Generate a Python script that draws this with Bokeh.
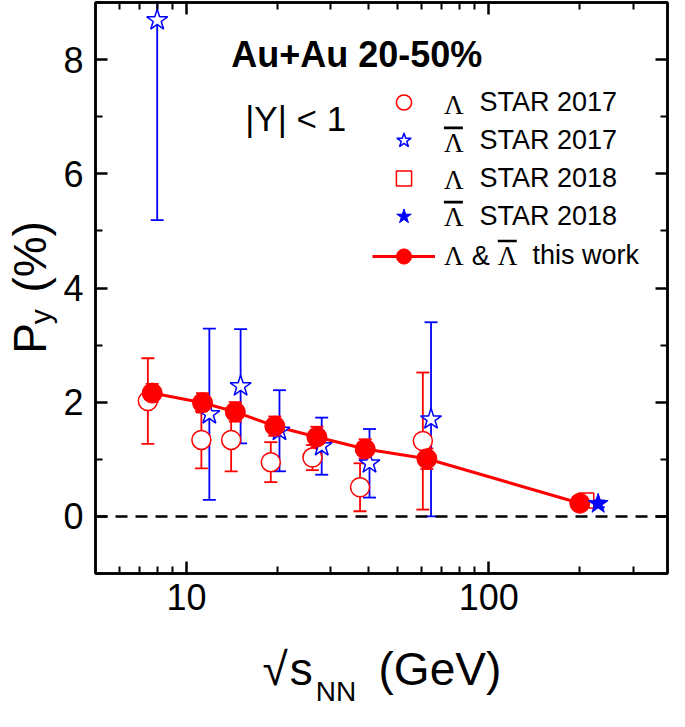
import math
from bokeh.plotting import figure
from bokeh.models import (Whisker, TeeHead, Span, Label, Legend, LegendItem,
                          LinearAxis, LogAxis, FixedTicker, BoxAnnotation,
                          NumeralTickFormatter, ColumnDataSource,
                          CustomJSTickFormatter)
from bokeh.embed import file_html
from bokeh.resources import INLINE

# ---------------- data ----------------
# Lambda, STAR 2017 (open circles)
x_lam17 = [7.45, 11.2, 14.05, 19.0, 26.1, 37.5, 60.5]
y_lam17 = [2.02, 1.34, 1.34, 0.95, 1.03, 0.51, 1.32]
e_lam17 = [0.75, 0.50, 0.55, 0.35, 0.22, 0.42, 1.20]
# anti-Lambda, STAR 2017 (open stars)
x_alam17 = [8.0, 11.9, 15.1, 20.3, 28.0, 40.3, 64.4]
y_alam17 = [8.69, 1.79, 2.28, 1.50, 1.23, 0.93, 1.70]
e_alam17 = [3.50, 1.50, 1.00, 0.71, 0.50, 0.60, 1.70]
# Lambda, STAR 2018 (open square)
x_lam18 = [210.0]
y_lam18 = [0.28]
e_lam18 = [0.04]
# anti-Lambda, STAR 2018 (filled star)
x_alam18 = [230.0]
y_alam18 = [0.22]
e_alam18 = [0.06]
# Lambda & anti-Lambda, this work
x_work = [7.7, 11.3, 14.5, 19.6, 27.0, 39.0, 62.4, 200.0]
y_work = [2.16, 1.99, 1.83, 1.58, 1.39, 1.18, 1.01, 0.23]
e_work = [0.16, 0.17, 0.17, 0.17, 0.18, 0.17, 0.18, 0.04]

x_major = [10, 100]
x_minor = [6, 7, 8, 9, 20, 30, 40, 50, 60, 70, 80, 90, 200, 300]
y_major = [0, 2, 4, 6, 8]
y_minor = [-1, 1, 3, 5, 7, 9]

legend_labels = ["STAR 2017", "STAR 2017", "STAR 2018", "STAR 2018"]
work_label = "this work"
x_title_parts = ["√", "s", "(GeV)"]
x_title_sub = ["NN"]
y_title_parts = ["P", "(%)"]
y_title_sub = ["y"]

RED = "#ff0000"
BLUE = "#0000ff"
SANS = "Liberation Sans"
SERIF = "Liberation Serif"

# ---------------- layout ----------------
W_FIG, H_FIG = 669, 711
BL, BR, BT, BB = 95, 2, 2, 138
FW, FH = W_FIG - BL - BR, H_FIG - BT - BB
X0, X1, Y0, Y1 = 5, 390, -1, 9
LAB_DY = 9   # raise for text labels
LEG_DY = 4   # legend block shift (reference px, downward)


def fx(X):  # reference pixel -> frame screen x
    return (X - 105) * FW / 573.0


def fy(Y):  # reference pixel -> frame screen y (up from frame bottom)
    return (581 - Y) * FH / 577.0


def dx(X):  # reference pixel -> x position on the log axis (for text placement)
    return X0 * (X1 / X0) ** (fx(X) / FW)


def dy(Y):  # reference pixel -> y position on the linear axis (for text placement)
    return Y0 + (Y1 - Y0) * fy(Y) / FH


p = figure(width=W_FIG, height=H_FIG, x_axis_type="log",
           x_range=(X0, X1), y_range=(Y0, Y1),
           output_backend="svg", toolbar_location=None,
           min_border_left=BL, min_border_right=BR,
           min_border_top=BT, min_border_bottom=BB)
p.xgrid.visible = False
p.ygrid.visible = False
p.outline_line_color = "black"
p.outline_line_width = 2.5
p.background_fill_color = "white"
p.border_fill_color = "white"


def style_axis(ax, labels=True):
    ax.major_tick_in = 12
    ax.major_tick_out = 0
    ax.minor_tick_in = 7
    ax.minor_tick_out = 0
    ax.axis_line_width = 2.5
    ax.axis_line_color = "black"
    ax.major_tick_line_width = 2.5
    ax.minor_tick_line_width = 2
    ax.major_tick_line_color = "black"
    ax.minor_tick_line_color = "black"
    ax.major_label_text_font = SANS
    ax.major_label_text_color = "black"
    if labels:
        ax.major_label_text_font_size = "36px"
        ax.major_label_standoff = 12
    else:
        ax.formatter = CustomJSTickFormatter(code="return ''")
        ax.major_label_text_font_size = "10px"
        ax.major_label_standoff = 0


def text_axis(cls, ticks, texts, size, standoff, vertical=False):
    ax = cls(ticker=FixedTicker(ticks=ticks, minor_ticks=[]),
             formatter=CustomJSTickFormatter(args=dict(t=texts),
                                             code="return t[index]"))
    ax.axis_line_color = None
    ax.major_tick_line_color = None
    ax.minor_tick_line_color = None
    ax.major_tick_in = 0
    ax.major_tick_out = 0
    ax.minor_tick_in = 0
    ax.minor_tick_out = 0
    ax.major_label_text_font = SANS
    ax.major_label_text_font_size = size
    ax.major_label_text_color = "black"
    ax.major_label_standoff = standoff
    if vertical:
        ax.major_label_orientation = "vertical"
    return ax


xb = p.xaxis[0]
xb.ticker = FixedTicker(ticks=x_major, minor_ticks=x_minor)
xb.formatter = NumeralTickFormatter(format="0")
style_axis(xb)
xb.major_label_standoff = 10
yl = p.yaxis[0]
yl.ticker = FixedTicker(ticks=y_major, minor_ticks=y_minor)
style_axis(yl)

xt = LogAxis(ticker=FixedTicker(ticks=x_major, minor_ticks=x_minor))
style_axis(xt, labels=False)
p.add_layout(xt, "above")
yr = LinearAxis(ticker=FixedTicker(ticks=y_major, minor_ticks=y_minor))
style_axis(yr, labels=False)
p.add_layout(yr, "right")

# axis titles (built from text-only axes so they sit outside the frame)
p.add_layout(text_axis(LogAxis, [dx(285), dx(311), dx(450)], x_title_parts,
                       "46px", 30), "below")
p.add_layout(text_axis(LogAxis, [dx(346)], x_title_sub, "28px", -22), "below")
p.add_layout(text_axis(LinearAxis, [dy(321.5)], y_title_sub, "30px", 3,
                       vertical=True), "left")
p.add_layout(text_axis(LinearAxis, [dy(343.5), dy(261)], y_title_parts,
                       "46px", -35, vertical=True), "left")

# zero line
p.add_layout(Span(location=0, dimension="width", line_color="black",
                  line_width=2.5, line_dash="12 8"))


def add_errors(xs, ys, es, color):
    src = ColumnDataSource(dict(x=xs, lo=[a - b for a, b in zip(ys, es)],
                                hi=[a + b for a, b in zip(ys, es)]))
    w = Whisker(source=src, base="x", lower="lo", upper="hi", dimension="height",
                line_color=color, line_width=1.8,
                lower_head=TeeHead(size=13, line_color=color, line_width=1.8),
                upper_head=TeeHead(size=13, line_color=color, line_width=1.8),
                level="underlay")
    p.add_layout(w)


add_errors(x_lam17, y_lam17, e_lam17, RED)
add_errors(x_alam17, y_alam17, e_alam17, BLUE)
add_errors(x_lam18, y_lam18, e_lam18, RED)
add_errors(x_alam18, y_alam18, e_alam18, BLUE)
add_errors(x_work, y_work, e_work, RED)

r_line = p.line(x_work, y_work, line_color=RED, line_width=3)
r_lam17 = p.scatter(x_lam17, y_lam17, marker="circle", size=19,
                    line_color=RED, fill_color="white", line_width=1.5)
r_lam18 = p.scatter(x_lam18, y_lam18, marker="square", size=15,
                    line_color=RED, fill_color="white", line_width=1.5)
r_alam17 = p.scatter(x_alam17, y_alam17, marker="star", size=22,
                     line_color=BLUE, fill_color="white", line_width=1.5)
r_work = p.scatter(x_work, y_work, marker="circle", size=20,
                   line_color=RED, fill_color=RED)
r_alam18 = p.scatter(x_alam18, y_alam18, marker="star", size=21,
                     line_color=BLUE, fill_color=BLUE)

# legends
common = dict(glyph_width=63, glyph_height=38, padding=0, margin=0, spacing=0,
              border_line_color=None, background_fill_alpha=0,
              label_text_font=SANS, label_text_font_size="27px",
              label_text_color="black")
leg1 = Legend(items=[LegendItem(label=legend_labels[0], renderers=[r_lam17]),
                     LegendItem(label=legend_labels[1], renderers=[r_alam17]),
                     LegendItem(label=legend_labels[2], renderers=[r_lam18]),
                     LegendItem(label=legend_labels[3], renderers=[r_alam18])],
              location=(fx(382), fy(235.7 + LEG_DY)), label_standoff=45, **common)
leg2 = Legend(items=[LegendItem(label=work_label, renderers=[r_line, r_work])],
              location=(fx(382), fy(275.7 + LEG_DY)), label_standoff=98, **common)
p.add_layout(leg1)
p.add_layout(leg2)


def lab(x, y, text, size, font=SANS, style="normal"):
    p.add_layout(Label(x=x, y=y + LAB_DY, x_units="screen", y_units="screen",
                       text=text, text_font=font, text_font_size=size,
                       text_font_style=style, text_color="black",
                       text_align="left", text_baseline="alphabetic"))


def bar(X, Y):
    p.add_layout(BoxAnnotation(left=fx(X), right=fx(X) + 19,
                               bottom=fy(Y) - 1.3, top=fy(Y) + 1.3,
                               left_units="screen", right_units="screen",
                               bottom_units="screen", top_units="screen",
                               fill_color="black", fill_alpha=1.0,
                               line_color=None))


# Greek letters in the legend
for Yb in [113, 150.7, 188.3, 225.7, 265.7]:
    lab(fx(454), fy(Yb + LEG_DY), "Λ", "27px", font=SERIF)
lab(fx(482), fy(265.7 + LEG_DY), "&", "27px")
lab(fx(508), fy(265.7 + LEG_DY), "Λ", "27px", font=SERIF)
bar(454, 126.7 + LEG_DY)
bar(454, 201.7 + LEG_DY)
bar(508, 241.0 + LEG_DY)

# annotations
lab(fx(241), fy(66), "Au+Au 20-50%", "36px", style="bold")
lab(fx(255), fy(130), "|Y| < 1", "35px")

open("out.html", "w").write(file_html(p, INLINE))
